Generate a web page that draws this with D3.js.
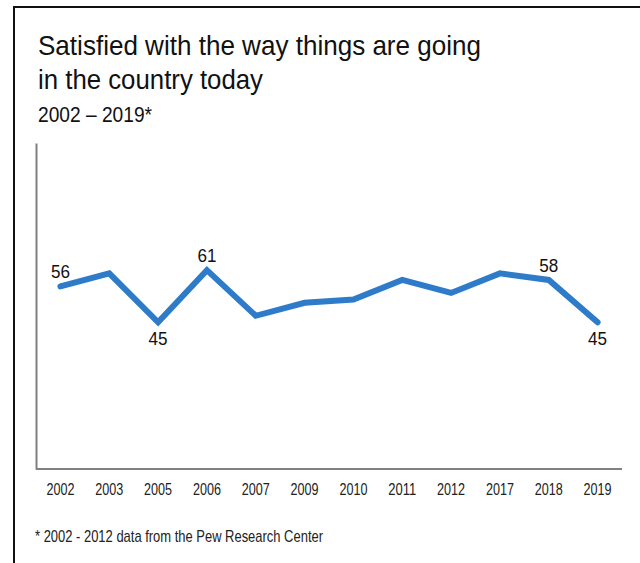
<!DOCTYPE html>
<html>
<head>
<meta charset="utf-8">
<script src="https://cdn.jsdelivr.net/npm/d3@7"></script>
<style>
  html, body { margin: 0; padding: 0; background: #fff; }
  svg { display: block; }
</style>
</head>
<body>
<script>
// Share of respondents satisfied with the way things are going, by survey year
const years = ["2002", "2003", "2005", "2006", "2007", "2009", "2010", "2011", "2012", "2017", "2018", "2019"];
const satisfied = [56, 60, 45, 61, 47, 51, 52, 58, 54, 60, 58, 45];
// Which points carry a value label, and on which side of the line
const labelled = { "2002": "above", "2005": "below", "2006": "above", "2018": "above", "2019": "below" };

const W = 640, H = 563;
const svg = d3.select("body").append("svg").attr("width", W).attr("height", H);

// Outer frame (top and left edges)
svg.append("path")
  .attr("d", `M14,${H} L14,7 L${W},7`)
  .attr("fill", "none")
  .attr("stroke", "#111")
  .attr("stroke-width", 2);

// Title block
const titleFont = "'Liberation Sans', Arial, Helvetica, sans-serif";
const narrowFont = "'Liberation Sans Narrow', 'Liberation Sans', Arial, sans-serif";
svg.append("text").attr("x", 38).attr("y", 54.5)
  .attr("font-family", titleFont).attr("font-size", 27.5).attr("fill", "#111")
  .attr("textLength", 443).attr("lengthAdjust", "spacingAndGlyphs")
  .text("Satisfied with the way things are going");
svg.append("text").attr("x", 38).attr("y", 88.5)
  .attr("font-family", titleFont).attr("font-size", 27.5).attr("fill", "#111")
  .attr("textLength", 225).attr("lengthAdjust", "spacingAndGlyphs")
  .text("in the country today");
svg.append("text").attr("x", 38).attr("y", 121.5)
  .attr("font-family", titleFont).attr("font-size", 22).attr("fill", "#111")
  .attr("textLength", 114).attr("lengthAdjust", "spacingAndGlyphs")
  .text("2002 – 2019*");

// Scales
const x = d3.scaleBand().domain(years).range([36, 622]);
const y = d3.scaleLinear().domain([0, 100]).range([469, 143]);
const cx = d => x(d) + x.bandwidth() / 2;

// Axes: plain grey lines, no ticks
const axisColor = "#808080";
const xAxis = svg.append("g").attr("transform", `translate(0,${y(0)})`)
  .call(d3.axisBottom(x).tickSize(0).tickPadding(14));
xAxis.select(".domain").attr("stroke", axisColor).attr("stroke-width", 2)
  .attr("d", `M36,0H622`);
xAxis.selectAll(".tick text")
  .attr("font-family", narrowFont)
  .attr("font-size", 17)
  .attr("fill", "#222")
  .attr("textLength", 28)
  .attr("lengthAdjust", "spacingAndGlyphs");

const yAxis = svg.append("g").attr("transform", `translate(36,0)`)
  .call(d3.axisLeft(y).tickValues([]).tickSize(0));
yAxis.select(".domain").attr("stroke", axisColor).attr("stroke-width", 2);

// Series line
const points = years.map((yr, i) => ({ year: yr, value: satisfied[i] }));
const line = d3.line().x(d => cx(d.year)).y(d => y(d.value));
svg.append("path")
  .datum(points)
  .attr("d", line)
  .attr("fill", "none")
  .attr("stroke", "#2e7bc9")
  .attr("stroke-width", 6)
  .attr("stroke-linecap", "round")
  .attr("stroke-linejoin", "miter");

// Value labels
svg.append("g").selectAll("text")
  .data(points.filter(d => labelled[d.year]))
  .join("text")
  .attr("x", d => cx(d.year))
  .attr("y", d => labelled[d.year] === "above" ? y(d.value) - 8 : y(d.value) + 23)
  .attr("text-anchor", "middle")
  .attr("font-family", titleFont)
  .attr("font-size", 18)
  .attr("fill", "#111")
  .attr("textLength", 19)
  .attr("lengthAdjust", "spacingAndGlyphs")
  .text(d => d.value);

// Source note
svg.append("text").attr("x", 35).attr("y", 542)
  .attr("font-family", narrowFont)
  .attr("font-size", 17).attr("fill", "#222")
  .attr("textLength", 288).attr("lengthAdjust", "spacingAndGlyphs")
  .text("* 2002 - 2012 data from the Pew Research Center");
</script>
</body>
</html>
